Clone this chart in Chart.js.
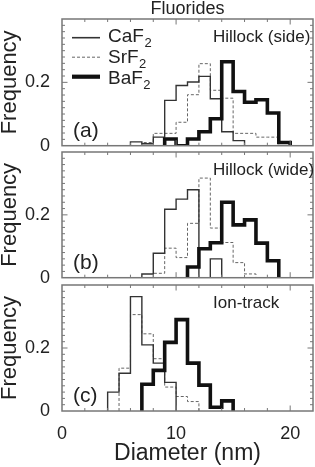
<!DOCTYPE html>
<html lang="en">
<head>
<meta charset="UTF-8">
<title>Fluorides</title>
<script src="https://cdn.jsdelivr.net/npm/chart.js"></script>
<style>
  body { margin: 0; background: #fff; }
  #wrap { position: relative; width: 315px; height: 467px; overflow: hidden; }
  #wrap canvas { position: absolute; left: 0; }
</style>
</head>
<body>
<div id="wrap">
  <canvas id="panelA" width="315" height="160" style="top:0"></canvas>
  <canvas id="panelB" width="315" height="150" style="top:140px"></canvas>
  <canvas id="panelC" width="315" height="195" style="top:272px"></canvas>
</div>

<script>
// left edge of each 1 nm bin (nm)
const binLeft = [4, 5, 6, 7, 8, 9, 10, 11, 12, 13, 14, 15, 16, 17, 18, 19];
const binWidth = 1;

// (a) Hillock (side)
const caSide = [0, 0, 0.012, 0.006, 0.027, 0.143, 0.19, 0.201, 0.219, 0.148, 0.044, 0.016, 0, 0, 0, 0];
const srSide = [0, 0, 0, 0.01, 0.039, 0.039, 0.074, 0.161, 0.259, 0.175, 0.15, 0.039, 0.039, 0.027, 0.027, 0];
const baSide = [0, 0, 0, 0, 0, 0.021, 0, 0.021, 0.044, 0.085, 0.265, 0.171, 0.137, 0.145, 0.103, 0.01];

// (b) Hillock (wide)
const caWide = [0, 0, 0, 0.012, 0.078, 0.218, 0.25, 0.28, 0, 0.06, 0, 0, 0, 0, 0, 0];
const srWide = [0, 0, 0, 0, 0.014, 0.094, 0.064, 0.173, 0.317, 0.158, 0.112, 0.048, 0.012, 0, 0, 0];
const baWide = [0, 0, 0, 0, 0, 0, 0, 0.034, 0.092, 0.111, 0.24, 0.168, 0.184, 0.11, 0.054, 0];

// (c) Ion-track
const caTrack = [0.06, 0.12, 0.363, 0.21, 0.152, 0.091, 0, 0, 0, 0, 0, 0, 0, 0, 0, 0];
const srTrack = [0, 0.136, 0.306, 0.245, 0.166, 0.076, 0.046, 0.03, 0, 0, 0, 0, 0, 0, 0, 0];
const baTrack = [0, 0, 0, 0.085, 0.129, 0.218, 0.29, 0.152, 0.082, 0.012, 0.032, 0, 0, 0, 0, 0];

const xTicks = { min: 0, max: 22, step: 2, labelEvery: 10 };
const yTicks = { min: 0, max: 0.4, step: 0.02, labelEvery: 0.2 };

const FONT = '"Liberation Sans", Arial, Helvetica, sans-serif';
Chart.defaults.font.family = FONT;
Chart.defaults.color = '#222';

// turn bin values into step points (trim empty bins at both ends)
function steps(values) {
    const first = values.findIndex(v => v > 0);
    let last = values.length - 1;
    while (last > first && values[last] === 0) last--;
    const pts = [{ x: binLeft[first], y: 0 }];
    for (let i = first; i <= last; i++) pts.push({ x: binLeft[i], y: values[i] });
    pts.push({ x: binLeft[last] + binWidth, y: 0 });
    return pts;
}

function isMultiple(v, m) {
    const r = v / m;
    return Math.abs(r - Math.round(r)) < 1e-6;
}

// frame, inward ticks, panel labels and the legend
const panelDeco = {
    id: 'panelDeco',
    afterDatasetsDraw(chart, args, opts) {
        const { ctx, chartArea: a, scales: { x, y } } = chart;
        ctx.save();
        ctx.strokeStyle = '#777';
        ctx.lineWidth = 1;
        ctx.beginPath();
        x.ticks.forEach(t => {
            const px = x.getPixelForValue(t.value);
            if (px <= a.left + 1 || px >= a.right - 1) return;
            const len = isMultiple(t.value, xTicks.labelEvery) ? 5.5 : 3;
            ctx.moveTo(px, a.bottom); ctx.lineTo(px, a.bottom - len);
            ctx.moveTo(px, a.top); ctx.lineTo(px, a.top + len);
        });
        y.ticks.forEach(t => {
            const py = y.getPixelForValue(t.value);
            if (py <= a.top + 1 || py >= a.bottom - 1) return;
            const len = isMultiple(t.value, yTicks.labelEvery) ? 5.5 : 3;
            ctx.moveTo(a.left, py); ctx.lineTo(a.left + len, py);
            ctx.moveTo(a.right, py); ctx.lineTo(a.right - len, py);
        });
        ctx.stroke();
        ctx.lineWidth = 1.5;
        ctx.strokeRect(a.left, a.top, a.right - a.left, a.bottom - a.top);

        ctx.fillStyle = '#222';
        ctx.textBaseline = 'alphabetic';
        ctx.textAlign = 'left';
        ctx.font = '21px ' + FONT;
        ctx.fillText(opts.tag, a.left + 11, a.bottom - 9);
        ctx.font = '17px ' + FONT;
        ctx.fillText(opts.note, a.left + 151, a.top + 23);

        if (opts.legend) {
            chart.data.datasets.forEach((ds, i) => {
                const m = ds.label.match(/^(.*?)(\d+)$/);
                const ly = a.top + 18.7 + i * 19.5;
                ctx.beginPath();
                ctx.strokeStyle = ds.borderColor;
                ctx.lineWidth = ds.legendWidth;
                ctx.setLineDash(ds.borderDash || []);
                ctx.moveTo(a.left + 10, ly);
                ctx.lineTo(a.left + 38, ly);
                ctx.stroke();
                ctx.setLineDash([]);
                const ty = a.top + 23.3 + i * 21;
                ctx.font = '19px ' + FONT;
                ctx.fillText(m[1], a.left + 46, ty);
                const w = ctx.measureText(m[1]).width;
                ctx.font = '13px ' + FONT;
                ctx.fillText(m[2], a.left + 46 + w + 0.5, ty + 4.5);
            });
        }
        ctx.restore();
    }
};

function makeChart(canvasId, ca, sr, ba, deco, bottomAxis, title) {
    return new Chart(document.getElementById(canvasId), {
        type: 'line',
        data: {
            datasets: [
                { label: 'CaF2', data: steps(ca), borderColor: '#333', borderWidth: 1.4, legendWidth: 1.6, order: 1 },
                { label: 'SrF2', data: steps(sr), borderColor: '#666', borderWidth: 1, legendWidth: 1, borderDash: [3, 2], order: 2 },
                { label: 'BaF2', data: steps(ba), borderColor: '#111', borderWidth: 3.6, legendWidth: 4.2, order: 0 }
            ]
        },
        options: {
            responsive: false,
            animation: false,
            devicePixelRatio: 1,
            datasets: {
                line: { stepped: true, pointRadius: 0, fill: false, borderJoinStyle: 'miter', borderCapStyle: 'butt' }
            },
            layout: { padding: deco.padding },
            scales: {
                x: {
                    type: 'linear',
                    min: xTicks.min,
                    max: xTicks.max,
                    grid: { display: false },
                    border: { display: false },
                    ticks: {
                        display: bottomAxis,
                        stepSize: xTicks.step,
                        autoSkip: false,
                        maxRotation: 0,
                        padding: 4,
                        font: { size: 18 },
                        callback: v => isMultiple(v, xTicks.labelEvery) ? String(v) : ''
                    },
                    title: {
                        display: bottomAxis,
                        text: 'Diameter (nm)',
                        font: { size: 23, lineHeight: 1 },
                        padding: { top: 0, bottom: 2 }
                    },
                    afterFit: s => {
                        s.height = bottomAxis ? 56 : 0;
                        s.paddingLeft = 0;
                        s.paddingRight = 0;
                    }
                },
                y: {
                    min: yTicks.min,
                    max: yTicks.max,
                    grid: { display: false },
                    border: { display: false },
                    ticks: {
                        stepSize: yTicks.step,
                        autoSkip: false,
                        padding: 4,
                        font: { size: 18 },
                        callback: v => {
                            if (Math.abs(v) < 1e-9) return '0';
                            if (Math.abs(v - yTicks.labelEvery) < 1e-9) return '0.2';
                            return '';
                        }
                    },
                    title: {
                        display: true,
                        text: 'Frequency',
                        font: { size: 22, lineHeight: '20px' },
                        padding: 0
                    },
                    afterFit: s => {
                        s.width = 62;
                        s.paddingTop = 0;
                        s.paddingBottom = 0;
                    }
                }
            },
            plugins: {
                legend: { display: false },
                tooltip: { enabled: false },
                title: {
                    display: !!title,
                    text: title,
                    fullSize: false,
                    color: '#222',
                    font: { size: 18, weight: 'normal', lineHeight: '16px' },
                    padding: { top: 1, bottom: 2 }
                },
                panelDeco: deco
            }
        },
        plugins: [panelDeco]
    });
}

makeChart('panelA', caSide, srSide, baSide,
    { tag: '(a)', note: 'Hillock (side)', legend: true, padding: { left: 0, right: 2, top: 0, bottom: 14.3 } },
    false, 'Fluorides');
makeChart('panelB', caWide, srWide, baWide,
    { tag: '(b)', note: 'Hillock (wide)', legend: false, padding: { left: 0, right: 2, top: 12, bottom: 12.3 } },
    false, '');
makeChart('panelC', caTrack, srTrack, baTrack,
    { tag: '(c)', note: 'Ion-track', legend: false, padding: { left: 0, right: 2, top: 13, bottom: 0 } },
    true, '');
</script>
</body>
</html>
